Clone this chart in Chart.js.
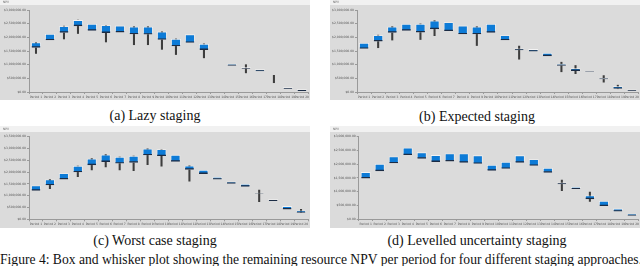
<!DOCTYPE html>
<html>
<head>
<meta charset="utf-8">
<script src="https://cdn.jsdelivr.net/npm/chart.js@4.4.1/dist/chart.umd.min.js"></script>
<style>
    body { margin: 0; width: 640px; height: 266px; overflow: hidden; background: #fff; position: relative; font-family: 'Liberation Serif', 'Times New Roman', serif; }
    canvas { position: absolute; }
    .cap { position: absolute; font-size: 14px; line-height: 14px; white-space: nowrap; color: #111; }
</style>
</head>
<body>
<canvas id="chart-a" width="310" height="100" style="left:0;top:0"></canvas>
<canvas id="chart-b" width="310" height="100" style="left:330px;top:0"></canvas>
<canvas id="chart-c" width="310" height="102" style="left:0;top:126px"></canvas>
<canvas id="chart-d" width="310" height="102" style="left:330px;top:126px"></canvas>
<div class="cap" style="left:155px;top:109px;transform:translateX(-50%)">(a) Lazy staging</div>
<div class="cap" style="left:477px;top:110px;transform:translateX(-50%)">(b) Expected staging</div>
<div class="cap" style="left:155px;top:234px;transform:translateX(-50%)">(c) Worst case staging</div>
<div class="cap" style="left:477px;top:234px;transform:translateX(-50%)">(d) Levelled uncertainty staging</div>
<div class="cap" style="left:0;top:253px;font-size:13.6px">Figure 4: Box and whisker plot showing the remaining resource NPV per period for four different staging approaches.</div>
<script>
const periods = ['Period 1', 'Period 2', 'Period 3', 'Period 4', 'Period 5', 'Period 6', 'Period 7', 'Period 8', 'Period 9', 'Period 10',
    'Period 11', 'Period 12', 'Period 13', 'Period 14', 'Period 15', 'Period 16', 'Period 17', 'Period 18', 'Period 19', 'Period 20'];
const ticks3M = ['$0.00', '$500,000.00', '$1,000,000.00', '$1,500,000.00', '$2,000,000.00', '$2,500,000.00', '$3,000,000.00'];
const ticks35M = ['$0.00', '$500,000.00', '$1,000,000.00', '$1,500,000.00', '$2,000,000.00', '$2,500,000.00', '$3,000,000.00', '$3,500,000.00'];

// values in millions of dollars
// (a) lazy staging
const topsA = [1.81, 2.12, 2.41, 2.63, 2.49, 2.44, 2.43, 2.39, 2.39, 2.21, 1.94, 2.11, 1.76, null, 1.03, 0.91, 0.83, null, 0.17, 0.10];
const bottomsA = [1.62, 1.89, 2.17, 2.41, 2.24, 2.16, 2.18, 2.11, 2.10, 1.91, 1.67, 1.80, 1.54, null, 0.96, 0.85, 0.76, null, 0.11, 0.04];
const lowsA = [1.41, null, 1.94, 2.14, null, 1.83, null, 1.73, 1.73, 1.56, 1.37, null, 1.25, null, null, 0.70, null, 0.34, null, null];
const highsA = [null, null, null, null, null, null, null, null, null, null, null, null, null, null, null, 1.00, null, 0.61, null, null];

// (b) expected staging
const topsB = [1.79, 2.08, 2.39, 2.49, 2.49, 2.61, 2.55, 2.43, 2.39, 2.49, 2.08, 1.59, 1.57, 1.43, 1.03, 0.87, 0.77, 0.51, 0.21, 0.09];
const bottomsB = [1.58, 1.85, 2.17, 2.24, 2.18, 2.30, 2.23, 2.11, 2.11, 2.17, 1.89, 1.53, 1.48, 1.31, 0.96, 0.77, 0.74, 0.47, 0.12, 0.04];
const lowsB = [null, 1.62, 1.90, null, 1.92, 2.06, null, null, 1.70, null, null, 1.20, null, null, 0.74, 0.67, null, 0.36, null, null];
const highsB = [null, null, null, null, null, null, null, null, null, null, null, 1.68, null, null, 1.09, 0.97, null, 0.60, 0.25, null];

// (c) worst case staging
const topsC = [1.43, 1.69, 1.95, 2.26, 2.57, 2.74, 2.64, 2.68, 2.99, 2.97, 2.73, 2.27, 2.09, 1.79, 1.60, 1.50, 1.13, 0.85, 0.56, 0.37];
const bottomsC = [1.21, 1.44, 1.69, 1.99, 2.29, 2.43, 2.36, 2.40, 2.71, 2.68, 2.44, 2.10, 1.92, 1.69, 1.51, 1.38, 1.09, 0.78, 0.42, 0.28];
const lowsC = [null, 1.30, null, 1.81, 2.09, 2.22, 2.09, 2.06, 2.32, 2.25, null, 1.62, null, null, null, null, 0.75, null, null, null];
const highsC = [null, null, null, null, null, null, null, null, null, null, null, null, null, null, null, null, 1.24, null, null, 0.42];

// (d) levelled uncertainty staging
const topsD = [1.71, 2.01, 2.28, 2.60, 2.43, 2.33, 2.39, 2.39, 2.32, 1.97, 2.08, 2.32, 2.18, 1.86, 1.33, 1.17, 0.86, 0.66, 0.38, 0.19];
const bottomsD = [1.48, 1.74, 2.03, 2.33, 2.20, 2.08, 2.10, 2.05, 2.01, 1.76, 1.83, 2.05, 1.94, 1.69, 1.27, 1.09, 0.72, 0.47, 0.27, 0.12];
const lowsD = [null, null, null, null, null, null, null, null, null, null, null, null, null, null, 1.03, null, 0.64, null, null, null];
const highsD = [null, null, null, null, null, null, null, null, null, null, null, null, null, null, 1.42, null, 0.98, null, null, null];

const panelBackground = {
    id: 'panelBackground',
    beforeDraw(chart, args, opts) {
        const { ctx, width, height } = chart;
        ctx.save();
        ctx.fillStyle = '#f1f1f1';
        ctx.fillRect(0, 0, width, height);
        ctx.fillStyle = '#dbdbdb';
        ctx.fillRect(0, opts.grayTop, width, height - opts.grayTop);
        ctx.fillStyle = '#666';
        ctx.font = '3px "DejaVu Sans"';
        ctx.textBaseline = 'middle';
        ctx.fillText('NPV', 3, opts.grayTop / 2);
        ctx.restore();
    }
};

function makeChart(id, p) {
    const boxes = p.tops.map((t, i) => t == null ? null : [p.bottoms[i], t]);
    const whiskers = p.tops.map((t, i) => {
        if (p.lows[i] == null && p.highs[i] == null) return null;
        return [p.lows[i] ?? p.bottoms[i], p.highs[i] ?? t];
    });
    return new Chart(document.getElementById(id), {
        type: 'bar',
        data: {
            labels: periods,
            datasets: [
                {
                    data: whiskers, backgroundColor: '#3d3d3d', barThickness: 1.4,
                    grouped: false, order: 3
                },
                {
                    data: boxes, backgroundColor: '#0d7bd7', borderColor: '#f4f4f4', borderWidth: 0.8,
                    borderSkipped: false, barPercentage: 0.7, categoryPercentage: 1, grouped: false, order: 2
                },
                {
                    data: boxes, backgroundColor: 'rgba(0,0,0,0)', borderColor: '#1b2c45',
                    borderWidth: { top: 0, right: 0, bottom: 1.4, left: 0 },
                    borderSkipped: false, barPercentage: 0.64, categoryPercentage: 1, grouped: false, order: 1
                }
            ]
        },
        options: {
            responsive: false,
            animation: false,
            layout: { padding: { top: p.padTop, right: p.padRight, left: 0, bottom: 0 } },
            plugins: {
                legend: { display: false },
                tooltip: { enabled: false },
                panelBackground: { grayTop: p.grayTop }
            },
            scales: {
                x: {
                    grid: { display: true, drawOnChartArea: false, tickLength: 2, color: '#9a9a9a' },
                    border: { color: '#9a9a9a' },
                    ticks: { font: { size: 3, family: 'DejaVu Sans' }, color: '#555', maxRotation: 0, autoSkip: false, padding: 1 },
                    afterFit: (s) => { s.height = p.xh; }
                },
                y: {
                    min: 0, max: p.max,
                    grid: { display: true, drawOnChartArea: false, tickLength: 2, color: '#9a9a9a' },
                    border: { color: '#9a9a9a' },
                    ticks: {
                        stepSize: 0.5, font: { size: 3, family: 'DejaVu Sans' }, color: '#555', padding: 1,
                        callback: (v, i) => p.tickLabels[i]
                    },
                    afterFit: (s) => { s.width = p.yw; }
                }
            }
        },
        plugins: [panelBackground]
    });
}

makeChart('chart-a', { tops: topsA, bottoms: bottomsA, lows: lowsA, highs: highsA, max: 3, tickLabels: ticks3M,
    grayTop: 5, padTop: 10, padRight: 1, xh: 8, yw: 29 });
makeChart('chart-b', { tops: topsB, bottoms: bottomsB, lows: lowsB, highs: highsB, max: 3, tickLabels: ticks3M,
    grayTop: 5, padTop: 10, padRight: 1, xh: 8, yw: 27 });
makeChart('chart-c', { tops: topsC, bottoms: bottomsC, lows: lowsC, highs: highsC, max: 3.5, tickLabels: ticks35M,
    grayTop: 6, padTop: 10.7, padRight: 2, xh: 8.7, yw: 29 });
makeChart('chart-d', { tops: topsD, bottoms: bottomsD, lows: lowsD, highs: highsD, max: 3, tickLabels: ticks3M,
    grayTop: 6, padTop: 10.7, padRight: 0.7, xh: 9, yw: 28.7 });
</script>
</body>
</html>
